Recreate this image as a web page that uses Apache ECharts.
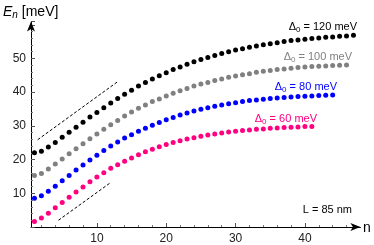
<!DOCTYPE html>
<html><head><meta charset="utf-8">
<script src="https://cdn.jsdelivr.net/npm/echarts@6/dist/echarts.min.js"></script>
<style>html,body{margin:0;padding:0;background:#fff}#c{width:374px;height:245px}</style>
</head><body><div id="c"></div>
<script>
const e120 = [22.0,22.5,23.7,25.1,26.6,28.1,29.6,31.1,32.6,34.0,35.4,36.8,38.1,39.4,40.6,41.8,42.9,43.9,44.9,45.8,46.7,47.5,48.3,49.0,49.7,50.3,50.9,51.5,52.0,52.5,52.9,53.3,53.7,54.1,54.4,54.7,55.0,55.3,55.5,55.7,55.9,56.1,56.3,56.4,56.6,56.7,56.9];
const e100 = [15.3,15.9,17.2,18.7,20.2,21.7,23.2,24.7,26.2,27.6,29.0,30.3,31.6,32.9,34.1,35.2,36.2,37.2,38.0,38.9,39.7,40.4,41.1,41.8,42.4,42.9,43.5,43.9,44.4,44.8,45.2,45.5,45.9,46.2,46.4,46.7,46.9,47.1,47.3,47.5,47.6,47.7,47.8,47.9,48.0,48.1];
const e80 = [8.5,9.3,10.6,12.1,13.7,15.3,16.9,18.4,19.9,21.3,22.7,24.0,25.2,26.4,27.4,28.4,29.3,30.2,31.0,31.8,32.5,33.2,33.8,34.4,34.9,35.4,35.8,36.2,36.6,36.9,37.2,37.5,37.7,37.9,38.1,38.3,38.4,38.6,38.7,38.8,38.9,39.0,39.1,39.2];
const e60 = [1.6,2.7,4.1,5.7,7.3,8.8,10.4,11.9,13.4,14.8,16.1,17.4,18.5,19.5,20.5,21.4,22.3,23.1,23.8,24.5,25.1,25.6,26.1,26.5,26.9,27.3,27.6,27.9,28.2,28.4,28.6,28.8,29.0,29.1,29.3,29.4,29.5,29.6,29.7,29.8,29.8];
const guideUpper = [[1.47,25.9],[12.92,43.0]];
const guideLower = [[4.46,2.0],[11.86,13.0]];
const xTickLabels = [10,20,30,40];
const xMinorTicks = [2,4,6,8,12,14,16,18,22,24,26,28,32,34,36,38,42,44,46];
const yTickLabels = [10,20,30,40,50];
const seriesNames = ['Δ0 = 120 meV','Δ0 = 100 meV','Δ0 = 80 meV','Δ0 = 60 meV'];
const seriesColors = ['#000000','#808080','#0000ff','#ff0080'];

const toPts = arr => arr.map((v,i)=>[i+1,v]);
const FONT = '"Liberation Sans", Arial, sans-serif';
const chart = echarts.init(document.getElementById('c'), null, {renderer:'canvas'});
const allData = [e120,e100,e80,e60];
const series = allData.map((d,k)=>({
  type:'scatter', name:seriesNames[k], data:toPts(d), symbolSize:5,
  itemStyle:{color:seriesColors[k], opacity:1}, silent:true, animation:false
}));
[guideUpper, guideLower].forEach(g=>series.push({
  type:'line', data:g, showSymbol:false, silent:true, animation:false,
  lineStyle:{color:'#000', width:1, type:[3,2]}
}));

function lab(txt, color){
  const parts = txt.split('0');
  return {text:'{d|'+parts[0]+'}{s|0}{d|'+parts.slice(1).join('0')+'}',
    rich:{d:{fontSize:11,fontFamily:FONT,fill:color},s:{fontSize:8,fontFamily:FONT,fill:color,padding:[5,0,0,0]}}};
}
const labelPos = [[357,27],[352,57],[337,87],[317,119]];
const graphics = seriesNames.map((n,k)=>{
  const l = lab(n, seriesColors[k]);
  return {type:'text', x:labelPos[k][0], y:labelPos[k][1], style:{text:l.text, rich:l.rich, align:'right', verticalAlign:'middle', fill:seriesColors[k], font:'11px '+FONT}};
});
graphics.push({type:'text', x:352, y:210, style:{text:'L = 85 nm', align:'right', verticalAlign:'middle', fill:'#000', font:'11px '+FONT}});
graphics.push({type:'text', x:3, y:12, style:{text:'{e|E}{n|n}{t| [meV]}', verticalAlign:'middle',
  rich:{e:{fontSize:14,fontStyle:'italic',fontFamily:FONT,fill:'#000'},n:{fontSize:10,fontStyle:'italic',fontFamily:FONT,fill:'#000',padding:[6,0,0,0]},t:{fontSize:14,fontFamily:FONT,fill:'#000'}}}});
graphics.push({type:'text', x:363, y:228, style:{text:'n', verticalAlign:'middle', fill:'#000', font:'14px '+FONT}});

const axisCol = '#000';
chart.setOption({
  animation:false,
  grid:{left:31, right:13.6, top:21.4, bottom:18, containLabel:false},
  xAxis:[{
    type:'value', min:0.5, max:48,
    axisLine:{show:true, onZero:false, lineStyle:{color:axisCol,width:1}, symbol:['none','arrow'], symbolSize:[6,10]},
    axisTick:{show:true, inside:true, length:4, customValues:xTickLabels, lineStyle:{color:'#555'}},
    axisLabel:{show:true, customValues:xTickLabels, color:'#222', fontSize:12, fontFamily:FONT, margin:6},
    splitLine:{show:false}
  },{
    type:'value', min:0.5, max:48, position:'bottom',
    axisLine:{show:false},
    axisTick:{show:true, inside:true, length:2, customValues:xMinorTicks, lineStyle:{color:'#777'}},
    axisLabel:{show:false}, splitLine:{show:false}
  }],
  yAxis:{
    type:'value', min:0, max:61, interval:10,
    axisLine:{show:true, onZero:false, lineStyle:{color:axisCol,width:1}, symbol:['none','arrow'], symbolSize:[6,10]},
    axisTick:{show:true, inside:true, length:4, lineStyle:{color:'#555'}},
    minorTick:{show:true, splitNumber:5, length:2, lineStyle:{color:'#777'}},
    axisLabel:{show:true, color:'#222', fontSize:12, fontFamily:FONT, margin:5,
      formatter:v=> yTickLabels.indexOf(v)>=0 ? String(v) : ''},
    splitLine:{show:false}
  },
  series: series,
  graphic: graphics
});
</script></body></html>
